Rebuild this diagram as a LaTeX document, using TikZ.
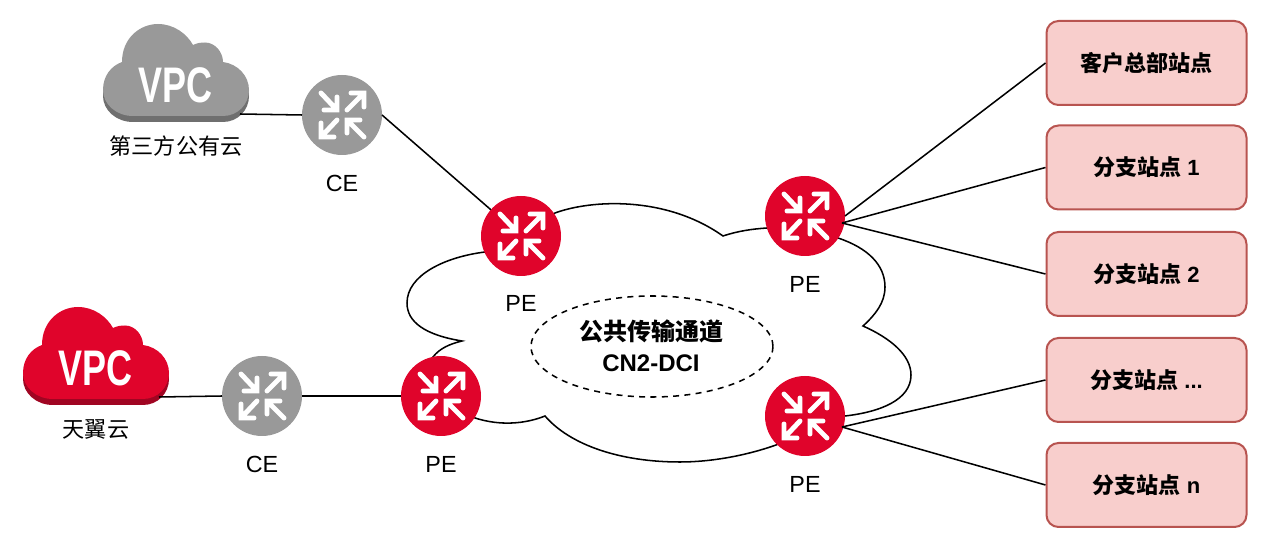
\documentclass[tikz,border=0pt]{standalone}
\usepackage{fontspec}
\setmainfont{Liberation Sans}
\newfontfamily\cjk{Noto Sans CJK SC}
\definecolor{cred}{HTML}{E0042B}
\definecolor{credd}{HTML}{A00522}
\definecolor{cgray}{HTML}{999999}
\definecolor{cgrayd}{HTML}{6F6F6F}
\definecolor{boxfill}{HTML}{F8CECC}
\definecolor{boxline}{HTML}{B85450}
\tikzset{
  conn/.style={draw=black,line width=1.15pt},
  router/.style={circle,draw=none,fill=#1,minimum size=60pt,inner sep=0pt,outer sep=0pt},
  sitebox/.style={draw=boxline,fill=boxfill,line width=1.5pt,rounded corners=9pt,minimum width=150pt,minimum height=63pt,inner sep=0pt,font=\fontsize{16.5}{20}\selectfont\bfseries},
  lab/.style={inner sep=0pt,font=\fontsize{17.5}{20}\selectfont},
  cnlab/.style={inner sep=0pt,font=\fontsize{16.6}{20}\selectfont\cjk},
  vpctext/.style={inner sep=0pt,text=white,font=\fontsize{37.5}{40}\selectfont\bfseries},
  pics/arrows/.style={code={
    \draw[white,line width=3.7pt,line cap=round,line join=miter]
      (-21,-22)--(-5,-5) (-18,-5)--(-5,-5)--(-5,-18)
      (5,-5)--(22,-22) (9,-22)--(22,-22)--(22,-8)
      (-5,5)--(-21,22) (-21,8)--(-21,22)--(-8,22)
      (22,22)--(5,5) (5,18)--(5,5)--(18,5);
  }},
  pics/vpccloud/.style n args={2}{code={
    \def\cloudpath{(-43,26) .. controls (-60,26) and (-73,14) .. (-73,0)
      .. controls (-73,-14) and (-65,-24) .. (-54,-28)
      .. controls (-54,-52) and (-36,-66) .. (-18,-66)
      .. controls (-2,-66) and (11,-56) .. (17,-45)
      .. controls (21,-47) and (25,-47.5) .. (29,-47.5)
      .. controls (39,-47.5) and (47,-38) .. (47,-28)
      .. controls (62,-26) and (73,-14) .. (73,0)
      .. controls (73,14) and (62,26) .. (47,26) -- cycle}
    \fill[#2,yshift=-4.5pt] \cloudpath;
    \fill[#1] \cloudpath;
  }}
}
\begin{document}
\begin{tikzpicture}[x=0.75pt,y=-0.75pt]
\useasboundingbox (0,0) rectangle (1268,548);
% big cloud
\draw[line width=1.15pt,fill=white]
  (555,213) .. controls (590,200) and (665,195) .. (723,236)
  .. controls (738,231) and (752,229) .. (767,228)
  -- (838,238) .. controls (868,248) and (885,265) .. (885,287)
  .. controls (885,303) and (875,315) .. (863,326)
  .. controls (890,338) and (911,355) .. (911,375)
  .. controls (911,400) and (880,412) .. (845,416)
  -- (776,445) .. controls (745,456) and (710,462) .. (680,462)
  .. controls (620,462) and (570,445) .. (545,416)
  .. controls (525,424) and (500,426) .. (475,418)
  -- (433,357) .. controls (440,348) and (450,344) .. (462,341)
  .. controls (425,335) and (407,322) .. (407,303)
  .. controls (407,275) and (445,257) .. (485,252) -- cycle;
% ellipse
\draw[line width=1.15pt,dash pattern=on 4.5pt off 4pt] (652,346.5) ellipse [x radius=121,y radius=50.5];
\node[inner sep=0pt,align=center,font=\fontsize{18}{23.5}\selectfont\bfseries] (tunnel) at (651,346) {{\cjk 公共传输通道}\\CN2-DCI};
% VPC clouds
\pic at (176,90) {vpccloud={cgray}{cgrayd}};
\pic at (96,373) {vpccloud={cred}{credd}};
\node[vpctext] (vpc1) at (175.5,85.5) {\scalebox{.72}[1]{VPC}};
\node[vpctext] (vpc2) at (95.5,368.5) {\scalebox{.72}[1]{VPC}};
\coordinate (c1end) at (240,114);
\coordinate (c2end) at (159,397);
\node[cnlab] (l1) at (176,146.5) {第三方公有云};
\node[cnlab] (l2) at (96,429.5) {天翼云};
% routers
\node[router=cgray] (ce1) at (342,115) {};
\node[router=cgray] (ce2) at (262,396) {};
\node[router=cred] (pe1) at (521,236) {};
\node[router=cred] (pe4) at (441,396) {};
\node[router=cred] (pe2) at (805,216) {};
\node[router=cred] (pe3) at (805,416) {};
\pic at (ce1) {arrows};
\pic at (ce2) {arrows};
\pic at (pe1) {arrows};
\pic at (pe4) {arrows};
\pic at (pe2) {arrows};
\pic at (pe3) {arrows};
\node[lab] (t1) at (342,183) {CE};
\node[lab] (t2) at (262,464) {CE};
\node[lab] (t3) at (521,303) {PE};
\node[lab] (t4) at (441,464) {PE};
\node[lab] (t5) at (805,284) {PE};
\node[lab] (t6) at (805,484) {PE};
% boxes
\node[sitebox] (b1) at (1146.5,63) {\cjk 客户总部站点};
\node[sitebox] (b2) at (1146.5,167.5) {{\cjk 分支站点} 1};
\node[sitebox] (b3) at (1146.5,274) {{\cjk 分支站点} 2};
\node[sitebox] (b4) at (1146.5,380) {{\cjk 分支站点} ...};
\node[sitebox] (b5) at (1146.5,485) {{\cjk 分支站点} n};
% connectors
\coordinate (p2) at (842,223);
\coordinate (p3) at (842,427);
\draw[conn] (c1end) -- (ce1.west);
\draw[conn] (c2end) -- (ce2.west);
\draw[conn] (ce1.east) -- (pe1);
\draw[conn] (ce2.east) -- (pe4.west);
\draw[conn] (pe2.east) -- (b1.west);
\draw[conn] (p2) -- (b2.west);
\draw[conn] (p2) -- (b3.west);
\draw[conn] (p3) -- (b4.west);
\draw[conn] (p3) -- (b5.west);
\end{tikzpicture}
\end{document}
